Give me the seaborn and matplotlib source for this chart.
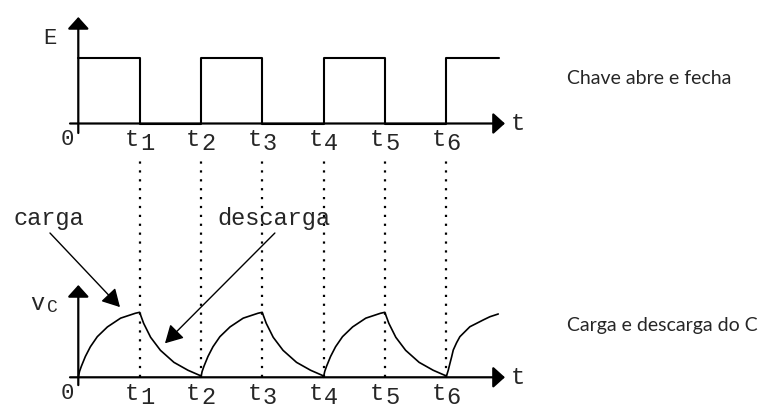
import numpy as np
import pandas as pd
import matplotlib.pyplot as plt
import seaborn as sns

# instantes de chaveamento (em unidades de t1)
t_marks = [1, 2, 3, 4, 5, 6]
t_subs = ['1', '2', '3', '4', '5', '6']

# onda quadrada E (chave abre e fecha)
e_time = [0, 1, 2, 3, 4, 5, 6, 6.86]
e_level = [1, 0, 1, 0, 1, 0, 1, 1]

# forma de uma carga e de uma descarga
charge_dt = [0, 0.02, 0.05, 0.115, 0.197, 0.31, 0.475, 0.69, 0.93, 1.0]
charge_v = [0, 0.09, 0.17, 0.32, 0.47, 0.625, 0.775, 0.91, 0.985, 1.0]
discharge_dt = [0, 0.066, 0.18, 0.34, 0.56, 0.79, 0.98, 1.0]
discharge_v = [1.0, 0.83, 0.615, 0.415, 0.23, 0.108, 0.03, 0.0]
cycle_start = [0, 2, 4]
# ultima carga, cortada no fim do eixo
last_dt = [0, 0.036, 0.063, 0.091, 0.117, 0.171, 0.225, 0.307, 0.388,
           0.497, 0.605, 0.715, 0.851]
last_v = [0, 0.112, 0.215, 0.317, 0.42, 0.532, 0.625, 0.702, 0.778,
          0.83, 0.882, 0.932, 0.974]
last_start = 6

label_top = 'Chave abre e fecha'
label_bot = 'Carga e descarga do C'

sns.set_style('white')
mono = 'Liberation Mono'
plt.rcParams['font.family'] = ['Lato', 'DejaVu Sans']

vc_t, vc_v = [], []
for s in cycle_start:
    vc_t += [s + d for d in charge_dt] + [s + 1 + d for d in discharge_dt]
    vc_v += charge_v + discharge_v
vc_t += [last_start + d for d in last_dt]
vc_v += last_v
vc = pd.DataFrame({'t': vc_t, 'v': vc_v})
sq = pd.DataFrame({'t': e_time, 'E': e_level})

fig = plt.figure(figsize=(7.72, 4.15), dpi=100)
ax_top = fig.add_axes([0, 225 / 415, 1, 190 / 415])
ax_bot = fig.add_axes([0, 0, 1, 225 / 415])
xlim = (-78.3 / 61.3, (772 - 78.3) / 61.3)
ax_top.set_xlim(xlim)
ax_bot.set_xlim(xlim)
ax_top.set_ylim((123.5 - 190) / 66, 123.5 / 66)
ax_bot.set_ylim((377.3 - 415) / 65, (377.3 - 190) / 65)

sns.lineplot(data=sq, x='t', y='E', ax=ax_top, color='black', lw=1.5,
             drawstyle='steps-post', estimator=None, sort=False)
sns.lineplot(data=vc, x='t', y='v', ax=ax_bot, color='black', lw=1.2,
             estimator=None, sort=False)

ax_bot.vlines(t_marks, 0, 3.42, colors='black', lw=1.6,
              linestyles=[(0, (1, 3))], clip_on=False)

head = dict(arrowstyle='-|>,head_length=0.72,head_width=0.65', lw=1.6,
            color='black', mutation_scale=10, shrinkA=0, shrinkB=0)


def axes_arrows(ax, y_tip, y_low):
    ax.annotate('', xy=(6.96, 0), xytext=(-0.135, 0), arrowprops=head,
                annotation_clip=False)
    ax.annotate('', xy=(0, y_tip), xytext=(0, y_low), arrowprops=head,
                annotation_clip=False)
    ax.annotate('t', xy=(6.96, 0), xytext=(9.5, 0), textcoords='offset points',
                ha='center', va='center', family=mono, fontsize=17)
    ax.annotate('0', xy=(0, 0), xytext=(-8, -11.5), textcoords='offset points',
                ha='center', va='center', family=mono, fontsize=16)
    for tk, sub in zip(t_marks, t_subs):
        ax.annotate('t', xy=(tk, 0), xytext=(-5.5, -11.5),
                    textcoords='offset points', ha='center', va='center',
                    family=mono, fontsize=17)
        ax.annotate(sub, xy=(tk, 0), xytext=(5.5, -14.5),
                    textcoords='offset points', ha='center', va='center',
                    family=mono, fontsize=17)


axes_arrows(ax_top, 1.614, -0.144)
axes_arrows(ax_bot, 1.42, -0.12)

ax_top.text(-0.47, 1.295, 'E', ha='center', va='center', family=mono,
            fontsize=16)
ax_bot.text(-0.67, 1.13, 'v', ha='center', va='center', family=mono, fontsize=17)
ax_bot.text(-0.43, 1.07, 'C', ha='center', va='center', family=mono, fontsize=13)

thin = dict(arrowstyle='-|>,head_length=0.9,head_width=0.5', lw=1,
            color='black', mutation_scale=12, shrinkA=0, shrinkB=0)
ax_bot.annotate('', xy=(0.68, 1.08), xytext=(-0.462, 2.22), arrowprops=thin,
                annotation_clip=False)
ax_bot.annotate('', xy=(1.414, 0.523), xytext=(3.207, 2.22), arrowprops=thin,
                annotation_clip=False)
ax_bot.text(-0.486, 2.45, 'carga', ha='center', va='center', family=mono,
            fontsize=17)
ax_bot.text(3.184, 2.45, 'descarga', ha='center', va='center', family=mono,
            fontsize=17)

fig.text(567 / 772, 1 - 78 / 415, label_top, ha='left', va='center', fontsize=14)
fig.text(567 / 772, 1 - 325 / 415, label_bot, ha='left', va='center', fontsize=14)

for ax in (ax_top, ax_bot):
    ax.set_axis_off()

plt.savefig('out.png', dpi=100)
